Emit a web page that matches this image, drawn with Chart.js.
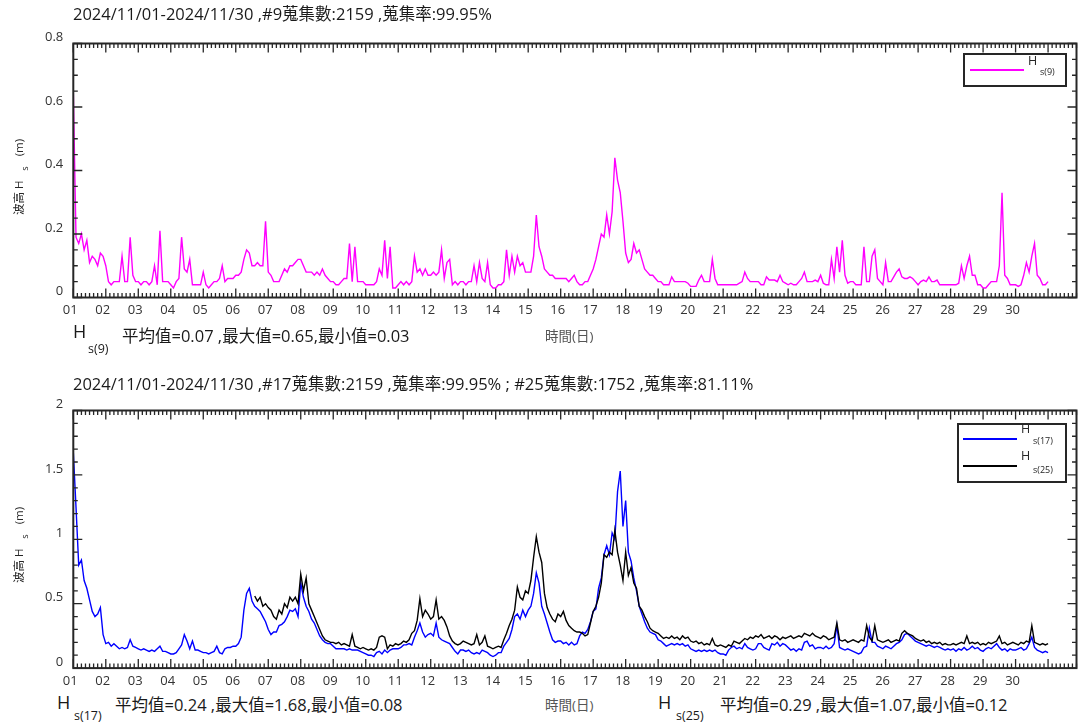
<!DOCTYPE html>
<html>
<head>
<meta charset="utf-8">
<script src="https://cdn.jsdelivr.net/npm/chart.js@4/dist/chart.umd.min.js"></script>
<style>
  html, body { margin: 0; padding: 0; background: #fff; }
  body { width: 1078px; height: 726px; overflow: hidden; position: relative;
         font-family: "Open Sans", "Noto Sans CJK TC", sans-serif; color: #262626; }
  canvas { position: absolute; left: 0; }
  .t { position: absolute; white-space: nowrap; line-height: 1; }
  .ttl { font-size: 16.5px; color: #1a1a1a; }
  .stat { font-size: 16.5px; color: #1a1a1a; }
  .bigH { font-size: 18px; color: #1a1a1a; }
  .sub { font-size: 12.5px; color: #1a1a1a; }
  .xname { font-size: 13.5px; color: #555; }
  .yname { position: absolute; font-size: 11.5px; line-height: 1; white-space: nowrap; color: #262626;
           transform: translate(-50%, -50%) rotate(-90deg); }
  .yname .s { display: inline-block; margin-left: 10px; font-size: 9px; transform: translateY(5px); }
  .yname .u { display: inline-block; margin-left: 10px; }
  .lg { position: absolute; border: 2px solid #262626; background: #fff; box-sizing: border-box; }
  .lgline { position: absolute; height: 2px; }
  .lgH { position: absolute; font-size: 12.5px; line-height: 1; }
  .lgS { position: absolute; font-size: 9px; line-height: 1; }
</style>
</head>
<body>
<canvas id="c9" width="1078" height="320" style="top:0"></canvas>
<canvas id="c17" width="1078" height="330" style="top:360px"></canvas>

<div class="t ttl" style="left:73px;top:6px">2024/11/01-2024/11/30 ,#9蒐集數:2159 ,蒐集率:99.95%</div>
<div class="yname" style="left:19px;top:177px">波高 H<span class="s">s</span><span class="u">(m)</span></div>
<div class="t bigH" style="left:73px;top:322px">H</div>
<div class="t sub" style="left:88px;top:343px">s(9)</div>
<div class="t stat" style="left:122px;top:328px">平均值=0.07 ,最大值=0.65,最小值=0.03</div>
<div class="t xname" style="left:545px;top:330px">時間(日)</div>

<div class="lg" style="left:963px;top:53px;width:104px;height:34px"></div>
<div class="lgline" style="left:970px;top:69px;width:54px;background:#ff00ff"></div>
<div class="lgH" style="left:1028px;top:55px">H</div>
<div class="lgS" style="left:1040px;top:67px">s(9)</div>

<div class="t ttl" style="left:73px;top:376px">2024/11/01-2024/11/30 ,#17蒐集數:2159 ,蒐集率:99.95% ; #25蒐集數:1752 ,蒐集率:81.11%</div>
<div class="yname" style="left:19px;top:545px">波高 H<span class="s">s</span><span class="u">(m)</span></div>
<div class="t bigH" style="left:57px;top:693px">H</div>
<div class="t sub" style="left:74px;top:710px">s(17)</div>
<div class="t stat" style="left:115px;top:697px">平均值=0.24 ,最大值=1.68,最小值=0.08</div>
<div class="t xname" style="left:545px;top:699px">時間(日)</div>
<div class="t bigH" style="left:658px;top:693px">H</div>
<div class="t sub" style="left:676px;top:710px">s(25)</div>
<div class="t stat" style="left:720px;top:697px">平均值=0.29 ,最大值=1.07,最小值=0.12</div>

<div class="lg" style="left:957px;top:423px;width:110px;height:60px"></div>
<div class="lgline" style="left:963px;top:438px;width:54px;background:#0000ff"></div>
<div class="lgH" style="left:1021px;top:423px">H</div>
<div class="lgS" style="left:1033px;top:436px">s(17)</div>
<div class="lgline" style="left:963px;top:465px;width:54px;background:#000"></div>
<div class="lgH" style="left:1021px;top:450px">H</div>
<div class="lgS" style="left:1033px;top:465px">s(25)</div>

<script>
// Day-of-month tick labels for the time axis
const dayLabels = ['01','02','03','04','05','06','07','08','09','10',
                   '11','12','13','14','15','16','17','18','19','20',
                   '21','22','23','24','25','26','27','28','29','30'];

// Significant wave height, two-hourly readings from 2024/11/01 00:00 to 2024/12/01 00:00 (m)
const hs9 = [
  0.65,0.19,0.17,0.20,0.15,0.18,0.11,0.13,0.12,0.10,0.14,0.13,
  0.10,0.05,0.04,0.05,0.05,0.05,0.13,0.05,0.05,0.19,0.07,0.05,
  0.05,0.04,0.05,0.05,0.04,0.05,0.10,0.04,0.21,0.05,0.05,0.05,
  0.04,0.03,0.05,0.06,0.19,0.09,0.08,0.12,0.04,0.04,0.04,0.04,
  0.08,0.04,0.03,0.04,0.05,0.05,0.06,0.10,0.05,0.06,0.06,0.06,
  0.07,0.07,0.08,0.12,0.15,0.14,0.10,0.10,0.11,0.10,0.10,0.24,
  0.08,0.07,0.05,0.05,0.05,0.07,0.09,0.08,0.10,0.10,0.11,0.12,
  0.12,0.10,0.08,0.08,0.08,0.07,0.08,0.07,0.09,0.07,0.06,0.05,
  0.05,0.04,0.04,0.05,0.06,0.06,0.17,0.05,0.16,0.05,0.05,0.05,
  0.04,0.04,0.04,0.04,0.05,0.09,0.07,0.18,0.06,0.16,0.03,0.03,
  0.04,0.05,0.04,0.05,0.04,0.05,0.13,0.08,0.09,0.07,0.09,0.07,
  0.07,0.08,0.07,0.08,0.15,0.06,0.11,0.12,0.04,0.05,0.04,0.05,
  0.05,0.04,0.05,0.05,0.10,0.05,0.11,0.06,0.05,0.11,0.04,0.03,
  0.03,0.04,0.04,0.05,0.15,0.07,0.13,0.08,0.13,0.10,0.11,0.08,
  0.08,0.08,0.13,0.26,0.16,0.13,0.09,0.08,0.07,0.07,0.06,0.06,
  0.06,0.06,0.06,0.05,0.06,0.07,0.05,0.04,0.04,0.05,0.05,0.07,
  0.09,0.12,0.16,0.20,0.19,0.26,0.20,0.27,0.44,0.37,0.33,0.24,
  0.14,0.11,0.12,0.17,0.14,0.15,0.12,0.09,0.08,0.07,0.07,0.06,
  0.05,0.05,0.04,0.04,0.04,0.065,0.05,0.05,0.05,0.05,0.05,0.045,
  0.035,0.035,0.035,0.055,0.07,0.05,0.05,0.05,0.12,0.06,0.04,0.04,
  0.04,0.04,0.04,0.04,0.04,0.04,0.045,0.05,0.08,0.06,0.05,0.05,
  0.05,0.05,0.04,0.04,0.065,0.055,0.055,0.055,0.05,0.07,0.05,0.045,
  0.04,0.045,0.04,0.04,0.05,0.06,0.08,0.05,0.05,0.05,0.055,0.05,
  0.07,0.045,0.04,0.04,0.12,0.06,0.16,0.08,0.18,0.07,0.045,0.05,
  0.05,0.04,0.04,0.04,0.16,0.05,0.05,0.13,0.15,0.06,0.05,0.04,
  0.11,0.05,0.05,0.065,0.08,0.09,0.065,0.06,0.06,0.065,0.06,0.05,
  0.04,0.05,0.055,0.05,0.065,0.05,0.05,0.055,0.04,0.04,0.04,0.04,
  0.04,0.04,0.04,0.045,0.10,0.06,0.10,0.13,0.07,0.07,0.04,0.04,
  0.03,0.03,0.04,0.05,0.05,0.05,0.10,0.33,0.07,0.06,0.04,0.04,
  0.04,0.035,0.04,0.07,0.11,0.08,0.13,0.17,0.07,0.06,0.04,0.04,
  0.05
];

const hs17 = [
  1.68,1.25,0.80,0.84,0.68,0.62,0.53,0.44,0.40,0.42,0.47,0.26,
  0.19,0.20,0.17,0.19,0.17,0.15,0.16,0.15,0.16,0.22,0.17,0.16,
  0.15,0.14,0.15,0.14,0.13,0.14,0.13,0.15,0.17,0.13,0.13,0.12,
  0.11,0.11,0.12,0.15,0.18,0.26,0.21,0.15,0.21,0.14,0.14,0.13,
  0.12,0.12,0.11,0.12,0.13,0.17,0.12,0.11,0.15,0.16,0.16,0.17,
  0.17,0.19,0.24,0.45,0.58,0.62,0.52,0.48,0.46,0.44,0.40,0.36,
  0.30,0.26,0.28,0.28,0.33,0.34,0.36,0.40,0.45,0.44,0.46,0.40,
  0.66,0.55,0.48,0.44,0.38,0.35,0.30,0.25,0.22,0.20,0.19,0.19,
  0.17,0.15,0.15,0.15,0.15,0.14,0.15,0.14,0.14,0.14,0.13,0.12,
  0.11,0.10,0.10,0.09,0.12,0.13,0.11,0.14,0.12,0.14,0.15,0.15,
  0.15,0.16,0.18,0.18,0.19,0.18,0.24,0.29,0.35,0.28,0.24,0.26,
  0.27,0.25,0.35,0.24,0.22,0.21,0.20,0.19,0.16,0.13,0.11,0.14,
  0.14,0.13,0.14,0.12,0.11,0.12,0.11,0.14,0.13,0.12,0.10,0.09,
  0.10,0.12,0.12,0.17,0.20,0.23,0.30,0.40,0.42,0.38,0.45,0.40,
  0.45,0.48,0.58,0.74,0.66,0.48,0.42,0.35,0.28,0.22,0.20,0.21,
  0.21,0.19,0.20,0.18,0.20,0.18,0.19,0.25,0.28,0.27,0.30,0.36,
  0.44,0.46,0.62,0.70,0.88,0.95,0.88,1.05,1.00,1.37,1.53,1.10,
  1.30,0.90,0.83,0.70,0.60,0.48,0.42,0.36,0.31,0.28,0.27,0.26,
  0.22,0.21,0.19,0.17,0.18,0.19,0.18,0.19,0.18,0.19,0.17,0.18,
  0.15,0.14,0.13,0.14,0.13,0.14,0.13,0.14,0.13,0.14,0.12,0.11,
  0.11,0.10,0.14,0.16,0.17,0.15,0.16,0.15,0.19,0.16,0.15,0.14,
  0.15,0.19,0.19,0.16,0.15,0.14,0.19,0.18,0.20,0.17,0.19,0.18,
  0.16,0.14,0.15,0.13,0.15,0.14,0.20,0.21,0.17,0.18,0.15,0.16,
  0.16,0.15,0.17,0.15,0.16,0.19,0.33,0.16,0.15,0.14,0.15,0.14,
  0.13,0.12,0.11,0.12,0.16,0.17,0.31,0.20,0.20,0.17,0.16,0.15,
  0.17,0.16,0.15,0.17,0.19,0.20,0.22,0.26,0.27,0.25,0.23,0.21,
  0.20,0.19,0.18,0.17,0.18,0.17,0.16,0.17,0.16,0.15,0.14,0.15,
  0.14,0.15,0.13,0.15,0.14,0.16,0.14,0.15,0.17,0.15,0.16,0.14,
  0.13,0.15,0.16,0.15,0.17,0.19,0.16,0.14,0.15,0.13,0.15,0.14,
  0.14,0.15,0.16,0.14,0.15,0.19,0.24,0.16,0.14,0.13,0.12,0.13,
  0.12
];

// Station #25 has no records before the afternoon of 11/06
const hs25 = [
  null,null,null,null,null,null,null,null,null,null,null,null,
  null,null,null,null,null,null,null,null,null,null,null,null,
  null,null,null,null,null,null,null,null,null,null,null,null,
  null,null,null,null,null,null,null,null,null,null,null,null,
  null,null,null,null,null,null,null,null,null,null,null,null,
  null,null,null,null,null,null,null,0.56,0.52,0.55,0.48,0.50,
  0.47,0.45,0.40,0.38,0.45,0.42,0.50,0.47,0.55,0.52,0.55,0.50,
  0.73,0.60,0.70,0.50,0.45,0.40,0.35,0.30,0.25,0.22,0.21,0.20,
  0.20,0.19,0.20,0.18,0.19,0.18,0.17,0.26,0.17,0.16,0.15,0.16,
  0.15,0.14,0.15,0.14,0.16,0.24,0.25,0.24,0.15,0.18,0.17,0.19,
  0.18,0.19,0.21,0.20,0.22,0.27,0.29,0.37,0.54,0.40,0.45,0.42,
  0.38,0.40,0.53,0.38,0.40,0.37,0.32,0.25,0.21,0.19,0.18,0.19,
  0.21,0.20,0.19,0.18,0.19,0.26,0.18,0.20,0.25,0.17,0.16,0.15,
  0.16,0.17,0.16,0.22,0.27,0.33,0.38,0.45,0.63,0.55,0.53,0.60,
  0.58,0.68,0.86,1.02,0.90,0.82,0.58,0.47,0.42,0.38,0.36,0.42,
  0.40,0.44,0.37,0.33,0.31,0.29,0.28,0.28,0.27,0.25,0.26,0.35,
  0.44,0.48,0.55,0.66,0.88,0.86,0.90,0.88,1.07,0.90,0.80,0.68,
  0.90,0.72,0.78,0.66,0.62,0.48,0.45,0.40,0.36,0.31,0.29,0.28,
  0.27,0.25,0.23,0.24,0.23,0.25,0.23,0.24,0.22,0.25,0.23,0.24,
  0.21,0.20,0.21,0.19,0.20,0.18,0.19,0.18,0.23,0.18,0.17,0.18,
  0.17,0.16,0.18,0.17,0.21,0.20,0.19,0.21,0.23,0.22,0.24,0.23,
  0.25,0.24,0.26,0.23,0.24,0.25,0.23,0.25,0.24,0.22,0.24,0.23,
  0.24,0.25,0.23,0.24,0.25,0.24,0.27,0.26,0.25,0.27,0.25,0.24,
  0.23,0.25,0.24,0.22,0.23,0.24,0.35,0.22,0.21,0.22,0.20,0.21,
  0.22,0.21,0.20,0.22,0.21,0.33,0.24,0.21,0.33,0.22,0.21,0.20,
  0.21,0.22,0.20,0.21,0.22,0.21,0.27,0.29,0.27,0.26,0.25,0.23,
  0.22,0.21,0.22,0.20,0.21,0.19,0.20,0.19,0.20,0.18,0.19,0.18,
  0.18,0.19,0.18,0.19,0.20,0.19,0.25,0.19,0.20,0.19,0.20,0.18,
  0.19,0.18,0.20,0.19,0.20,0.21,0.25,0.19,0.20,0.18,0.19,0.20,
  0.19,0.18,0.20,0.19,0.21,0.20,0.33,0.20,0.19,0.18,0.19,0.18,
  0.19
];

const SAMPLES_PER_DAY = 12;                     // one reading every two hours
const X_MIN = 1, X_MAX = 31.875;                // axis runs in day-of-month units
const toPoints = arr => arr.map((v, i) => ({ x: 1 + i / SAMPLES_PER_DAY, y: v }));

const AXIS_COLOR = '#262626';
const TICK_FONT = { family: "'Open Sans', 'Noto Sans CJK TC', sans-serif", size: 13 };

// Boxed frame with inward major/minor tick marks on all four sides
const boxTicks = {
  id: 'boxTicks',
  afterDatasetsDraw(chart, args, opts) {
    const { ctx, chartArea: a, scales: { x, y } } = chart;
    ctx.save();
    ctx.strokeStyle = AXIS_COLOR;
    ctx.lineWidth = 1.3;
    ctx.beginPath();
    const xCount = Math.round((X_MAX - X_MIN) * opts.xDiv);
    for (let k = 0; k <= xCount; k++) {
      const v = X_MIN + k / opts.xDiv;
      const px = x.getPixelForValue(v);
      const len = k % opts.xDiv === 0 ? 9 : 4.5;
      ctx.moveTo(px, a.bottom); ctx.lineTo(px, a.bottom - len);
      ctx.moveTo(px, a.top);    ctx.lineTo(px, a.top + len);
    }
    const yCount = Math.round(opts.yMax / opts.yMinor);
    const per = Math.round(opts.yMajor / opts.yMinor);
    for (let k = 0; k <= yCount; k++) {
      const py = y.getPixelForValue(k * opts.yMinor);
      const len = k % per === 0 ? 9 : 4.5;
      ctx.moveTo(a.left, py);  ctx.lineTo(a.left + len, py);
      ctx.moveTo(a.right, py); ctx.lineTo(a.right - len, py);
    }
    ctx.stroke();
    ctx.lineWidth = 2;
    ctx.strokeRect(a.left, a.top, a.right - a.left, a.bottom - a.top);
    ctx.restore();
  }
};

function makeChart(id, datasets, yMax, yMajor, yMinor, padTop, xHeight) {
  return new Chart(document.getElementById(id), {
    type: 'line',
    data: { datasets },
    options: {
      responsive: false,
      animation: false,
      devicePixelRatio: 1,
      layout: { padding: { left: 0, right: 1.5, top: padTop, bottom: 0 } },
      elements: { point: { radius: 0 }, line: { tension: 0, borderWidth: 1.4 } },
      plugins: {
        legend: { display: false },
        tooltip: { enabled: false },
        boxTicks: { xDiv: 8, yMax, yMajor, yMinor }
      },
      scales: {
        x: {
          type: 'linear', min: X_MIN, max: X_MAX,
          afterFit: s => { s.height = xHeight; },
          grid: { display: false, drawTicks: false },
          border: { display: false },
          ticks: {
            stepSize: 1, maxTicksLimit: 100, includeBounds: false, autoSkip: false,
            maxRotation: 0, minRotation: 0, padding: 5, labelOffset: -3,
            color: '#333', font: TICK_FONT,
            callback: v => dayLabels[Math.round(v) - 1] || ''
          }
        },
        y: {
          type: 'linear', min: 0, max: yMax,
          afterFit: s => { s.width = 73.3; },
          grid: { display: false, drawTicks: false },
          border: { display: false },
          ticks: {
            stepSize: yMajor, padding: 10, labelOffset: -6,
            color: '#333', font: TICK_FONT,
            callback: v => String(Math.round(v * 100) / 100)
          }
        }
      }
    },
    plugins: [boxTicks]
  });
}

makeChart('c9', [
  { label: 'Hs(9)', data: toPoints(hs9), borderColor: '#ff00ff', spanGaps: false }
], 0.8, 0.2, 0.05, 43.5, 22.5);

makeChart('c17', [
  { label: 'Hs(25)', data: toPoints(hs25), borderColor: '#000000', spanGaps: false },
  { label: 'Hs(17)', data: toPoints(hs17), borderColor: '#0000ff', spanGaps: false }
], 2, 0.5, 0.1, 50.5, 21.9);
</script>
</body>
</html>
